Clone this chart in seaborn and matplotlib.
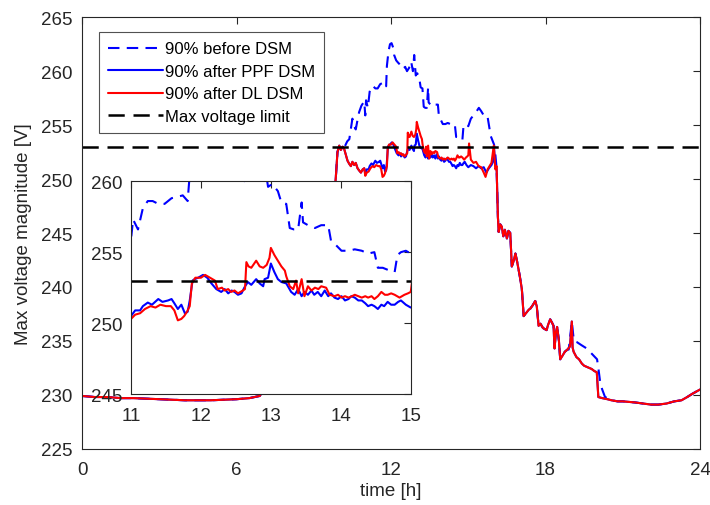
import numpy as np
import pandas as pd
import matplotlib
matplotlib.use("Agg")
import matplotlib.pyplot as plt
import seaborn as sns

# ---------------- data ----------------
V_LIMIT = 253.0

# common part of all three curves (morning, 0 - 9.8 h)
t_morning = [0.0, 0.5, 1.0, 1.5, 2.0, 3.0, 4.0, 5.0, 6.0, 6.5, 6.9, 7.2, 7.6, 8.0,
             8.5, 9.0, 9.4, 9.7, 9.8]
v_morning = [229.9, 229.8, 229.8, 229.7, 229.7, 229.6, 229.5, 229.5, 229.6, 229.7,
             229.9, 231.0, 233.5, 236.0, 239.5, 242.5, 245.0, 247.5, 248.5]

# after-DSM curves, 9.86 - 11 h (PPF and DL overlap)
t_rise = [9.86, 9.92, 9.99, 10.05, 10.12, 10.18, 10.25, 10.31, 10.38, 10.44, 10.5,
          10.57, 10.63, 10.7, 10.76, 10.83, 10.9, 10.96]
v_rise = [250.3, 252.5, 253.1, 252.7, 253.0, 252.8, 252.2, 251.7, 251.4, 251.2, 251.6,
          251.3, 251.5, 251.0, 250.8, 250.6, 250.9, 251.0]

# 90% after PPF DSM, 11 - 16.1 h
t_ppf = [11.0, 11.06, 11.13, 11.17, 11.24, 11.3, 11.39, 11.45, 11.53, 11.58, 11.62,
         11.67, 11.72, 11.77, 11.81, 11.84, 11.88, 11.91, 11.96, 12.03, 12.09, 12.15,
         12.22, 12.29, 12.34, 12.39, 12.44, 12.48, 12.53, 12.58, 12.62, 12.67, 12.72,
         12.79, 12.84, 12.89, 12.91, 12.96, 13.0, 13.05, 13.1, 13.15, 13.22, 13.29,
         13.34, 13.39, 13.44, 13.48, 13.53, 13.58, 13.62, 13.67, 13.72, 13.77, 13.82,
         13.86, 13.91, 13.96, 14.01, 14.06, 14.11, 14.15, 14.2, 14.25, 14.3, 14.35,
         14.39, 14.44, 14.48, 14.53, 14.58, 14.62, 14.67, 14.72, 14.77, 14.82, 14.86,
         14.93, 15.0, 15.1, 15.2, 15.3, 15.4, 15.5, 15.6, 15.7, 15.8, 15.9, 15.96,
         16.0, 16.05, 16.1]
v_ppf = [250.5, 250.9, 250.9, 251.2, 251.45, 251.3, 251.7, 251.5, 251.6, 251.7, 251.4,
         251.0, 251.3, 250.7, 250.8, 251.6, 253.0, 253.1, 253.2, 253.4, 253.2, 252.8,
         252.4, 252.2, 252.4, 252.1, 252.3, 252.2, 252.0, 252.1, 252.5, 252.9, 252.7,
         253.1, 252.8, 252.6, 253.1, 253.2, 254.2, 253.6, 253.1, 252.9, 252.8, 252.2,
         252.0, 252.4, 251.9, 252.2, 252.0, 252.3, 252.0, 252.2, 251.9, 252.3, 251.9,
         252.1, 251.8, 251.7, 251.9, 251.6, 251.7, 251.9, 251.8, 251.6, 251.6, 251.4,
         251.2, 251.3, 251.2, 251.0, 251.3, 251.2, 251.5, 251.3, 251.3, 251.5, 251.6,
         251.3, 251.1, 251.3, 251.2, 251.0, 251.2, 251.0, 251.1, 250.6, 251.0, 251.3,
         251.6, 252.9, 251.2, 251.0]

# 90% after DL DSM, 11 - 16.1 h
t_dl = [11.0, 11.06, 11.13, 11.2, 11.28, 11.35, 11.42, 11.5, 11.57, 11.62, 11.67,
        11.72, 11.76, 11.8, 11.84, 11.87, 11.92, 12.0, 12.06, 12.13, 12.2, 12.24, 12.3,
        12.34, 12.39, 12.43, 12.48, 12.53, 12.6, 12.63, 12.65, 12.68, 12.72, 12.79,
        12.84, 12.89, 12.94, 12.98, 13.0, 13.05, 13.1, 13.15, 13.2, 13.22, 13.27, 13.32,
        13.36, 13.39, 13.44, 13.48, 13.53, 13.58, 13.63, 13.68, 13.72, 13.79, 13.84,
        13.91, 13.96, 14.01, 14.06, 14.11, 14.16, 14.2, 14.25, 14.3, 14.35, 14.39,
        14.44, 14.48, 14.53, 14.58, 14.63, 14.67, 14.72, 14.77, 14.84, 14.91, 14.96,
        15.0, 15.03, 15.1, 15.2, 15.3, 15.4, 15.5, 15.6, 15.67, 15.75, 15.8, 15.9,
        15.99, 16.05, 16.1]
v_dl = [250.3, 250.6, 250.7, 251.0, 251.2, 251.1, 251.3, 251.2, 251.2, 250.9, 250.2,
        250.3, 250.5, 250.8, 251.2, 252.8, 253.2, 253.2, 253.4, 253.2, 253.0, 252.4,
        252.5, 252.3, 252.4, 252.2, 252.3, 252.1, 252.3, 252.4, 254.3, 254.0, 253.9,
        254.4, 254.0, 253.9, 254.1, 254.6, 255.3, 254.8, 254.4, 254.0, 253.7, 253.3,
        252.6, 252.4, 253.0, 252.1, 253.1, 251.9, 252.6, 252.3, 252.5, 252.4, 252.6,
        252.5, 252.0, 251.9, 252.0, 251.8, 251.9, 251.8, 251.9, 252.0, 251.9, 251.8,
        251.9, 251.8, 251.9, 251.7, 251.9, 252.2, 252.0, 252.0, 252.1, 252.0, 251.8,
        252.0, 252.1, 252.2, 253.3, 251.8, 251.5, 251.6, 251.2, 251.1, 250.6, 250.2,
        250.9, 251.1, 251.5, 253.1, 250.9, 251.2]

# 90% before DSM, where it departs from the after-DSM curves (9.99 - 16.1 h)
t_before_peak = [9.99, 10.1, 10.2, 10.3, 10.38, 10.45, 10.5, 10.57, 10.63, 10.7, 10.76,
                 10.85, 10.96, 11.0, 11.03, 11.1, 11.17, 11.24, 11.31, 11.39, 11.48,
                 11.58, 11.67, 11.74, 11.81, 11.84, 11.9, 11.96, 12.02, 12.08, 12.12,
                 12.2, 12.27, 12.35, 12.45, 12.55, 12.62, 12.7, 12.78, 12.85, 12.9,
                 12.96, 13.02, 13.1, 13.15, 13.22, 13.27, 13.33, 13.39, 13.44, 13.46,
                 13.53, 13.63, 13.72, 13.82, 13.86, 13.91, 14.01, 14.11, 14.2, 14.3,
                 14.39, 14.48, 14.53, 14.6, 14.7, 14.77, 14.81, 14.86, 14.93, 15.0,
                 15.1, 15.2, 15.3, 15.41, 15.5, 15.6, 15.74, 15.87, 16.0, 16.05, 16.1]
v_before_peak = [253.1, 252.9, 253.0, 253.5, 253.7, 254.8, 255.6, 254.9, 254.6, 255.5,
                 256.2, 256.8, 257.2, 255.9, 257.3, 256.6, 258.1, 258.6, 258.6, 258.4,
                 258.4, 258.8, 258.9, 259.0, 258.6, 260.5, 261.8, 262.5, 262.6, 262.2,
                 261.5, 261.0, 260.8, 260.6, 260.2, 260.4, 260.0, 260.3, 260.9, 260.0,
                 261.5, 259.6, 259.8, 259.3, 258.5, 258.4, 256.7, 256.6, 256.6, 258.5,
                 257.1, 256.9, 256.7, 256.9, 256.9, 255.8, 255.6, 255.1, 255.1, 255.2,
                 255.1, 254.9, 255.0, 253.9, 253.9, 253.7, 253.6, 254.8, 255.0, 255.1,
                 254.9, 255.6, 255.9, 256.2, 256.6, 256.3, 255.9, 255.9, 254.0, 253.2,
                 252.3, 251.0]

# common part of all curves, afternoon and night (16.12 - 24 h)
t_evening = [16.12, 16.15, 16.18, 16.24, 16.3, 16.36, 16.42, 16.5, 16.56, 16.63, 16.69,
             16.76, 16.83, 16.9, 17.0, 17.08, 17.15, 17.25, 17.35, 17.41, 17.5, 17.6,
             17.66, 17.73, 17.8, 17.9, 18.04, 18.1, 18.18, 18.25, 18.31, 18.35, 18.4,
             18.45, 18.52, 18.57, 18.65, 18.75, 18.85, 18.95, 19.02, 19.05, 19.09, 19.2,
             19.3, 19.41, 19.5, 19.6, 19.7, 19.79, 19.9, 19.99, 20.03, 20.05, 20.2, 20.4,
             20.56, 20.8, 21.0, 21.47, 21.8, 22.1, 22.38, 22.7, 23.0, 23.28, 23.5, 23.7,
             23.93, 24.0]
v_evening = [249.1, 246.5, 245.1, 245.8, 245.6, 244.7, 245.3, 244.5, 245.2, 245.0, 241.9,
             242.4, 243.1, 242.3, 241.0, 239.8, 237.3, 237.6, 237.9, 238.0, 238.3, 238.7,
             238.2, 236.4, 236.6, 236.2, 236.0, 236.5, 237.0, 236.7, 236.4, 234.3, 235.8,
             236.3, 235.0, 233.3, 233.6, 234.0, 234.2, 234.5, 236.8, 234.4, 234.0, 233.5,
             233.3, 232.9, 232.7, 232.6, 232.5, 232.4, 232.2, 232.1, 230.5, 229.8, 229.7,
             229.6, 229.5, 229.4, 229.4, 229.3, 229.2, 229.1, 229.1, 229.2, 229.4, 229.5,
             229.8, 230.1, 230.4, 230.5]

# 90% before DSM, evening bump (18.9 - 20.5 h)
t_before_eve = [18.9, 19.02, 19.1, 19.21, 19.4, 19.6, 19.8, 20.0, 20.05, 20.12, 20.2,
                20.31, 20.5]
v_before_eve = [234.2, 236.8, 235.0, 234.9, 234.6, 234.3, 233.8, 233.3, 232.5, 231.2,
                230.5, 229.8, 229.6]

# ---------------- build the three series ----------------
t_ev = np.array(t_evening)
v_ev = np.array(v_evening)

before = pd.DataFrame({
    "t": np.concatenate([t_morning, t_rise[:2], t_before_peak, t_ev[t_ev < 18.9],
                         t_before_eve, t_ev[t_ev > 20.5]]),
    "v": np.concatenate([v_morning, v_rise[:2], v_before_peak, v_ev[t_ev < 18.9],
                         v_before_eve, v_ev[t_ev > 20.5]]),
})
ppf = pd.DataFrame({
    "t": np.concatenate([t_morning, t_rise, t_ppf, t_evening]),
    "v": np.concatenate([v_morning, v_rise, v_ppf, v_evening]),
})
dl = pd.DataFrame({
    "t": np.concatenate([t_morning, t_rise, t_dl, t_evening]),
    "v": np.concatenate([v_morning, v_rise, v_dl, v_evening]),
})

# ---------------- style ----------------
sns.set_style("white")
plt.rcParams["font.family"] = ["Liberation Sans", "DejaVu Sans"]
plt.rcParams["xtick.direction"] = "in"
plt.rcParams["ytick.direction"] = "in"
TXT = "#262626"

DASH = (0, (5.5, 3.5))
LW = 1.5
FS = 13.5


def draw_curves(ax, with_label):
    sns.lineplot(data=before, x="t", y="v", ax=ax, color="blue", lw=LW, linestyle=DASH,
                 estimator=None, sort=False,
                 label="90% before DSM" if with_label else None)
    sns.lineplot(data=ppf, x="t", y="v", ax=ax, color="blue", lw=LW,
                 estimator=None, sort=False,
                 label="90% after PPF DSM" if with_label else None)
    sns.lineplot(data=dl, x="t", y="v", ax=ax, color="red", lw=LW,
                 estimator=None, sort=False,
                 label="90% after DL DSM" if with_label else None)
    ax.axhline(V_LIMIT, color="black", lw=1.8, linestyle=(0, (6.5, 3.5)),
               label="Max voltage limit" if with_label else None)


def style_axes(ax, xpad, ypad):
    for s in ax.spines.values():
        s.set_color(TXT)
        s.set_linewidth(0.8)
    ax.tick_params(which="both", direction="in", top=True, right=True, length=5,
                   width=0.8, color=TXT, labelcolor=TXT, labelsize=FS)
    ax.tick_params(axis="x", pad=xpad)
    ax.tick_params(axis="y", pad=ypad)


fig = plt.figure(figsize=(7.1, 5.06), dpi=100)
ax = fig.add_axes([0.1155, 0.111, 0.8705, 0.853])
draw_curves(ax, True)
ax.set_xlim(0, 24)
ax.set_ylim(225, 265)
ax.set_xticks([0, 6, 12, 18, 24])
ax.set_yticks(np.arange(225, 266, 5))
ax.set_xlabel("time [h]", fontsize=FS, color=TXT, labelpad=3)
ax.set_ylabel("Max voltage magnitude [V]", fontsize=FS, color=TXT, labelpad=6)
style_axes(ax, 8.5, 7)

leg = ax.legend(loc="upper left", bbox_to_anchor=(0.0275, 0.965), borderaxespad=0,
                fontsize=12, handlelength=3.3, handletextpad=0.1, labelspacing=0.45,
                frameon=True, fancybox=False, borderpad=0.55)
leg.get_frame().set_edgecolor(TXT)
leg.get_frame().set_linewidth(0.8)
for txt in leg.get_texts():
    txt.set_color("black")

# inset zoom 11 - 15 h
axin = fig.add_axes([0.1845, 0.219, 0.394, 0.421])
axin.set_facecolor("white")
draw_curves(axin, False)
axin.set_xlim(11, 15)
axin.set_ylim(245, 260)
axin.set_xticks([11, 12, 13, 14, 15])
axin.set_yticks([245, 250, 255, 260])
axin.set_xlabel("")
axin.set_ylabel("")
style_axes(axin, 9, 6)
axin.set_zorder(3)

fig.savefig("out.png", dpi=100)
plt.close(fig)
